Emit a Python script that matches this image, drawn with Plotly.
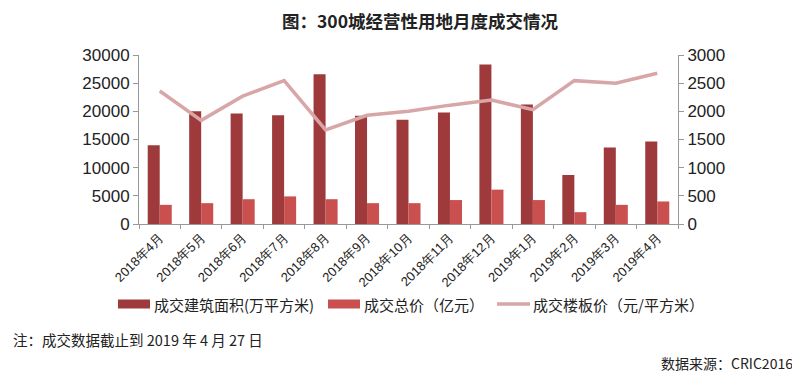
import plotly.graph_objects as go

months = ["2018年4月", "2018年5月", "2018年6月", "2018年7月", "2018年8月", "2018年9月",
          "2018年10月", "2018年11月", "2018年12月", "2019年1月", "2019年2月", "2019年3月", "2019年4月"]
area = [14000, 20000, 19600, 19300, 26600, 19200, 18500, 19800, 28300, 21200, 8700, 13600, 14650]
total = [3400, 3700, 4400, 4900, 4400, 3700, 3700, 4250, 6100, 4250, 2100, 3400, 4000]
price = [2360, 1840, 2270, 2545, 1670, 1930, 2000, 2110, 2200, 2030, 2545, 2500, 2675]

names = ["成交建筑面积(万平方米)", "成交总价（亿元）", "成交楼板价（元/平方米）"]
colors = ["#9E3A3B", "#C9504F", "#D8A6A6"]

fig = go.Figure()
fig.add_trace(go.Bar(x=months, y=area, name=names[0], marker=dict(color=colors[0], line_width=0)))
fig.add_trace(go.Bar(x=months, y=total, name=names[1], marker=dict(color=colors[1], line_width=0)))
fig.add_trace(go.Scatter(x=months, y=price, name=names[2], mode="lines", yaxis="y2",
                         line=dict(color=colors[2], width=3.5)))

# page has an 8px body margin; size the figure so it ends at the window edge
OFF = 8
PW, PH = 800, 378
W, H = PW - OFF, PH - OFF
# plot area in page pixels
X0, X1, Y0, Y1 = 139, 678, 55, 224
L, R, T, B = X0 - OFF, PW - X1, Y0 - OFF, PH - Y1
pw, ph = W - L - R, H - T - B

def px(x, y):
    """page pixel -> paper coordinates"""
    return (x - OFF - L) / pw, (H - B - (y - OFF)) / ph

axfont = dict(family="Liberation Sans, Arial", size=17, color="#222")
fig.update_layout(
    width=W, height=H,
    margin=dict(l=L, r=R, t=T, b=B, autoexpand=False),
    paper_bgcolor="white", plot_bgcolor="white",
    barmode="group", bargap=0.42, bargroupgap=0,
    showlegend=False,
    xaxis=dict(tickangle=-45, tickfont=dict(family="Liberation Sans, Arial", size=13, color="#222"),
               showline=True, linecolor="#999", linewidth=1, ticks="outside", tickson="boundaries",
               ticklen=4, tickcolor="#999", showgrid=False, automargin=False),
    yaxis=dict(range=[0, 30000], dtick=5000, tickformat="d", tickfont=axfont, showline=True,
               linecolor="#999", linewidth=1, ticks="outside", ticklen=5, tickcolor="#999",
               showgrid=False, zeroline=False, automargin=False),
    yaxis2=dict(range=[0, 3000], dtick=500, tickformat="d", overlaying="y", side="right",
                tickfont=axfont, showline=True, linecolor="#999", linewidth=1, ticks="outside",
                ticklen=5, tickcolor="#999", showgrid=False, zeroline=False, automargin=False),
)

cjk = "Noto Sans CJK SC"
anns = []
shapes = []
tx, ty = px(420, 20)
anns.append(dict(text="<b>图：300城经营性用地月度成交情况</b>", x=tx, y=ty, xanchor="center",
                 yanchor="middle", font=dict(family=cjk, size=17.5, color="#222")))
nx, ny = px(11, 339)
anns.append(dict(text="注：成交数据截止到 2019 年 4 月 27 日", x=nx, y=ny, xanchor="left",
                 yanchor="middle", font=dict(family=cjk, size=14.5, color="#222")))
sx, sy = px(795, 363)
anns.append(dict(text="数据来源：CRIC2016", x=sx, y=sy, xanchor="right", yanchor="middle",
                 font=dict(family=cjk, size=14, color="#222")))

# legend (drawn by hand to keep it on one row like the reference)
LY = 304
legend_items = [("rect", 118, 150, 152), ("rect", 328, 360, 362), ("line", 497, 530, 531)]
for (kind, a, b, t), name, c in zip(legend_items, names, colors):
    xa, ya = px(a, LY - 4.5)
    xb, yb = px(b, LY + 4.5)
    if kind == "rect":
        shapes.append(dict(type="rect", xref="paper", yref="paper", x0=xa, x1=xb, y0=yb, y1=ya,
                           fillcolor=c, line_width=0))
    else:
        _, ym = px(a, LY)
        shapes.append(dict(type="line", xref="paper", yref="paper", x0=xa, x1=xb, y0=ym, y1=ym,
                           line=dict(color=c, width=3.5)))
    lx, ly = px(t, LY)
    anns.append(dict(text=name, x=lx, y=ly, xanchor="left", yanchor="middle",
                     font=dict(family=cjk, size=15, color="#222")))

for a in anns:
    a.update(xref="paper", yref="paper", showarrow=False)
fig.update_layout(annotations=anns, shapes=shapes)

fig.write_html("out.html")
